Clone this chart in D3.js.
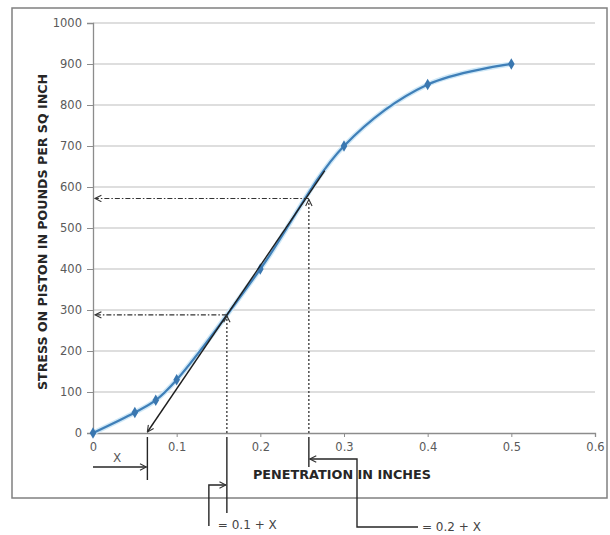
<!DOCTYPE html>
<html>
<head>
<meta charset="utf-8">
<script src="https://cdn.jsdelivr.net/npm/d3@7"></script>
<style>
  body { margin: 0; background: #fff; }
  text { font-family: "DejaVu Sans", Verdana, sans-serif; }
</style>
</head>
<body>
<svg id="chart" width="610" height="535"></svg>
<script>
// dados
const penetration = [0, 0.05, 0.075, 0.1, 0.2, 0.3, 0.4, 0.5];
const stress = [0, 50, 80, 130, 400, 700, 850, 900];
const xTicks = [0, 0.1, 0.2, 0.3, 0.4, 0.5, 0.6];
const yTicks = [0, 100, 200, 300, 400, 500, 600, 700, 800, 900, 1000];

// tangente corrigida e leituras
const tangentX = [0.065, 0.277];
const tangentY = [0, 640];
const offsetX = 0.065;        // X
const readX = [0.16, 0.258];  // 0.1 + X, 0.2 + X
const readY = [288, 572];
const readLabels = ["= 0.1 + X", "= 0.2 + X"];

const svg = d3.select("#chart");

const x = d3.scaleLinear().domain([0, 0.6]).range([93, 595]);
const y = d3.scaleLinear().domain([0, 1000]).range([433, 23]);

// moldura externa
svg.append("rect")
  .attr("x", 12).attr("y", 8)
  .attr("width", 595).attr("height", 490)
  .attr("fill", "none")
  .attr("stroke", "#808080")
  .attr("stroke-width", 1.5);

// setas
const defs = svg.append("defs");
defs.append("marker")
  .attr("id", "arrow")
  .attr("viewBox", "0 0 10 10")
  .attr("refX", 9).attr("refY", 5)
  .attr("markerWidth", 8).attr("markerHeight", 8)
  .attr("markerUnits", "userSpaceOnUse")
  .attr("orient", "auto")
  .append("path")
  .attr("d", "M1,1 L9,5 L1,9")
  .attr("fill", "none")
  .attr("stroke", "#333")
  .attr("stroke-width", 1.4);

// grade
svg.append("g")
  .selectAll("line")
  .data(yTicks.filter(d => d > 0))
  .enter()
  .append("line")
  .attr("x1", x(0)).attr("x2", x(0.6))
  .attr("y1", d => y(d)).attr("y2", d => y(d))
  .attr("stroke", "#bdbdbd")
  .attr("stroke-width", 1.2);

// eixos
const yAxis = svg.append("g")
  .attr("transform", `translate(${x(0)},0)`)
  .call(d3.axisLeft(y).tickValues(yTicks).tickSize(6).tickPadding(5).tickFormat(d3.format("d")));
const xAxis = svg.append("g")
  .attr("transform", `translate(0,${y(0)})`)
  .call(d3.axisBottom(x).tickValues(xTicks).tickSize(4).tickPadding(6).tickFormat(d => d === 0 ? "0" : d3.format(".1f")(d)));

[yAxis, xAxis].forEach(a => {
  a.select(".domain").attr("stroke", "#8c8c8c").attr("stroke-width", 1.3);
  a.selectAll(".tick line").attr("stroke", "#8c8c8c");
  a.selectAll(".tick text")
    .attr("fill", "#5a5a5a")
    .style("font-size", "11.5px")
    .style("font-family", "'DejaVu Sans', Verdana, sans-serif");
});

// títulos
svg.append("text")
  .attr("x", 342).attr("y", 479)
  .attr("text-anchor", "middle")
  .attr("font-weight", "bold")
  .attr("font-size", 12.8)
  .attr("fill", "#262626")
  .text("PENETRATION IN INCHES");

svg.append("text")
  .attr("transform", "translate(47,232) rotate(-90)")
  .attr("text-anchor", "middle")
  .attr("font-weight", "bold")
  .attr("font-size", 12.6)
  .attr("fill", "#262626")
  .text("STRESS ON PISTON IN POUNDS PER SQ INCH");

// curva suavizada
const points = penetration.map((p, i) => [p, stress[i]]);
const curve = d3.line()
  .x(d => x(d[0]))
  .y(d => y(d[1]))
  .curve(d3.curveCatmullRom.alpha(0.5));

svg.append("path")
  .attr("d", curve(points))
  .attr("fill", "none")
  .attr("stroke", "#cfe8f7")
  .attr("stroke-width", 5);

svg.append("path")
  .attr("d", curve(points))
  .attr("fill", "none")
  .attr("stroke", "#3f7fb8")
  .attr("stroke-width", 2.2);

svg.append("g")
  .selectAll("path")
  .data(points)
  .enter()
  .append("path")
  .attr("transform", d => `translate(${x(d[0])},${y(d[1])})`)
  .attr("d", d3.symbol().type(d3.symbolDiamond).size(38))
  .attr("fill", "#3a77b0");

// tangente
svg.append("line")
  .attr("x1", x(tangentX[1])).attr("y1", y(tangentY[1]))
  .attr("x2", x(tangentX[0])).attr("y2", y(tangentY[0]) - 1)
  .attr("stroke", "#1e1e1e")
  .attr("stroke-width", 1.4)
  .attr("marker-end", "url(#arrow)");

// leituras: vertical pontilhada e horizontal traço-ponto
readX.forEach((rx, i) => {
  svg.append("line")
    .attr("x1", x(rx)).attr("y1", y(0))
    .attr("x2", x(rx)).attr("y2", y(readY[i]) + 1)
    .attr("stroke", "#333")
    .attr("stroke-width", 1.3)
    .attr("stroke-dasharray", "2,2")
    .attr("marker-end", "url(#arrow)");
  svg.append("line")
    .attr("x1", x(rx)).attr("y1", y(readY[i]))
    .attr("x2", x(0) + 2).attr("y2", y(readY[i]))
    .attr("stroke", "#333")
    .attr("stroke-width", 1.2)
    .attr("stroke-dasharray", "5,2,1.5,2")
    .attr("marker-end", "url(#arrow)");
});

// anotações abaixo do eixo
const ann = svg.append("g")
  .attr("fill", "none")
  .attr("stroke", "#262626")
  .attr("stroke-width", 1.4);

// X
ann.append("line")
  .attr("x1", x(offsetX)).attr("y1", y(0) + 4)
  .attr("x2", x(offsetX)).attr("y2", 480);
ann.append("line")
  .attr("x1", x(0)).attr("y1", 467)
  .attr("x2", x(offsetX) - 1).attr("y2", 467)
  .attr("marker-end", "url(#arrow)");
svg.append("text")
  .attr("x", 117).attr("y", 462)
  .attr("text-anchor", "middle")
  .attr("font-size", 12)
  .attr("fill", "#5a5a5a")
  .text("X");

// 0.1 + X
ann.append("line")
  .attr("x1", x(readX[0])).attr("y1", y(0) + 4)
  .attr("x2", x(readX[0])).attr("y2", 513);
ann.append("path")
  .attr("d", `M${x(readX[0]) - 18},526 V485 H${x(readX[0]) - 1}`)
  .attr("marker-end", "url(#arrow)");
svg.append("text")
  .attr("x", x(readX[0]) - 9).attr("y", 529)
  .attr("font-size", 12)
  .attr("fill", "#444")
  .text(readLabels[0]);

// 0.2 + X
ann.append("line")
  .attr("x1", x(readX[1])).attr("y1", y(0) + 4)
  .attr("x2", x(readX[1])).attr("y2", 467);
ann.append("path")
  .attr("d", `M418,527 H357 V459 H${x(readX[1]) + 1}`)
  .attr("marker-end", "url(#arrow)");
svg.append("text")
  .attr("x", 422).attr("y", 531)
  .attr("font-size", 12)
  .attr("fill", "#444")
  .text(readLabels[1]);
</script>
</body>
</html>
